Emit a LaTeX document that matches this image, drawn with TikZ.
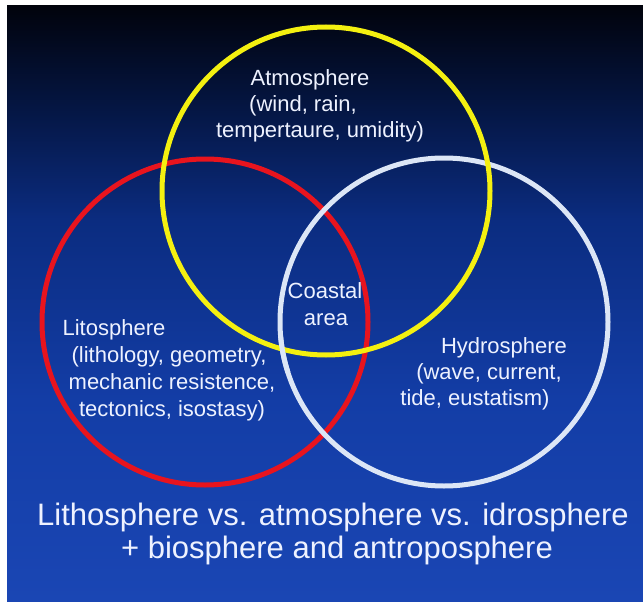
\documentclass[tikz,border=0pt]{standalone}
\usepackage{fontspec}
\setmainfont{Liberation Sans}
\definecolor{bgtop}{HTML}{01030C}
\definecolor{bgA}{HTML}{051746}
\definecolor{bgB}{HTML}{0B2C80}
\definecolor{bgC}{HTML}{133DA6}
\definecolor{bgbot}{HTML}{1A46B4}
\definecolor{ringyellow}{HTML}{F4F010}
\definecolor{ringred}{HTML}{E8141E}
\definecolor{ringwhite}{HTML}{DCE6F6}
\definecolor{txt}{HTML}{EEF2FF}
\pgfdeclareverticalshading{slidebg}{100bp}{color(0bp)=(bgbot); color(25bp)=(bgbot); color(42bp)=(bgC); color(57bp)=(bgB); color(66bp)=(bgA); color(75bp)=(bgtop); color(100bp)=(bgtop)}
\begin{document}
\begin{tikzpicture}[x=1pt,y=-1pt,
  lbl/.style={text=txt, font=\fontsize{22}{26}\selectfont, inner sep=0pt, anchor=base},
  biglbl/.style={text=txt, font=\fontsize{31}{33}\selectfont, inner sep=0pt, anchor=base},
  ring/.style={line width=5pt}]
\useasboundingbox (0,0) rectangle (643,602);
\fill[white] (0,0) rectangle (643,602);
\shade[shading=slidebg] (7,6) rectangle (643,602);
% circles
\draw[ring, ringred] (205,322) circle[radius=163pt];
\draw[ring, ringwhite] (444,322) circle[radius=164pt];
\draw[ring, ringyellow] (326,191) circle[radius=164pt];
\draw[ring, ringwhite] (444,322) ++(185:164pt) arc[start angle=185, end angle=198, radius=164pt];
% Atmosphere
\node[lbl] (atm1) at (310,85) {Atmosphere};
\node[lbl] (atm2) at (303,111) {(wind, rain,};
\node[lbl] (atm3) at (320,137) {tempertaure, umidity)};
% Coastal area
\node[lbl] (coast1) at (325,298) {Coastal};
\node[lbl] (coast2) at (326,325) {area};
% Litosphere
\node[lbl] (lit1) at (114,335) {Litosphere};
\node[lbl] (lit2) at (169,362) {(lithology, geometry,};
\node[lbl] (lit3) at (172,389) {mechanic resistence,};
\node[lbl] (lit4) at (172,416) {tectonics, isostasy)};
% Hydrosphere
\node[lbl] (hyd1) at (504,353) {Hydrosphere};
\node[lbl] (hyd2) at (489,379) {(wave, current,};
\node[lbl] (hyd3) at (475,405) {tide, eustatism)};
% bottom caption
\node[biglbl] (cap1) at (333,525) {Lithosphere vs. atmosphere vs. idrosphere};
\node[biglbl] (cap2) at (337,558) {+ biosphere and antroposphere};
\end{tikzpicture}
\end{document}
